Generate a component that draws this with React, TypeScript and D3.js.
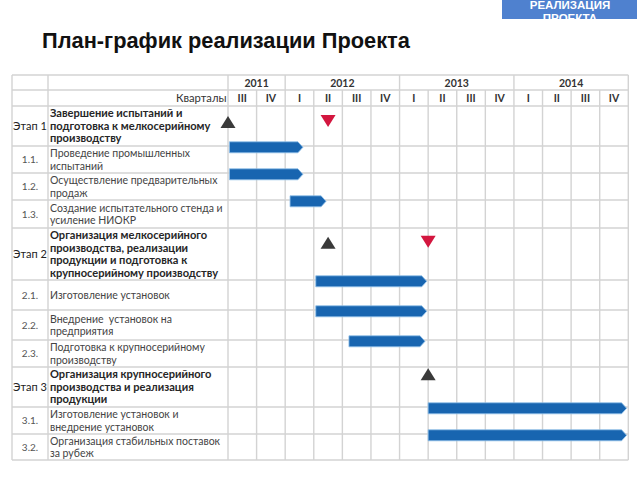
import React from 'react';
import * as d3 from 'd3';

// ---------- data ----------
const years = ['2011', '2012', '2013', '2014'];
const yearQuarterCounts = [2, 4, 4, 4];
const quarterLabels = ['III', 'IV', 'I', 'II', 'III', 'IV', 'I', 'II', 'III', 'IV', 'I', 'II', 'III', 'IV'];

const rowCodes = ['Этап 1', '1.1.', '1.2.', '1.3.', 'Этап 2', '2.1.', '2.2.', '2.3.', 'Этап 3', '3.1.', '3.2.'];
const rowIsStage = [true, false, false, false, true, false, false, false, true, false, false];
const rowTexts: string[][] = [
  ['Завершение испытаний и', 'подготовка к мелкосерийному', 'производству'],
  ['Проведение промышленных', 'испытаний'],
  ['Осуществление предварительных', 'продаж'],
  ['Создание испытательного стенда и', 'усиление НИОКР'],
  ['Организация мелкосерийного', 'производства, реализации', 'продукции и подготовка к', 'крупносерийному производству'],
  ['Изготовление установок'],
  ['Внедрение  установок на', 'предприятия'],
  ['Подготовка к крупносерийному', 'производству'],
  ['Организация крупносерийного', 'производства и реализация', 'продукции'],
  ['Изготовление установок и', 'внедрение установок'],
  ['Организация стабильных поставок', 'за рубеж'],
];

// tasks (quarter index units, 0 = start of III 2011)
const taskRows = [1, 2, 3, 5, 6, 7, 9, 10];
const taskStarts = [0.05, 0.05, 2.17, 3.07, 3.07, 4.23, 7.0, 7.0];
const taskEnds = [2.62, 2.62, 3.43, 6.95, 6.95, 6.89, 13.94, 13.94];

// milestones
const milestoneRows = [0, 0, 4, 4, 8];
const milestoneAt = [0, 3.5, 3.5, 7, 7];
const milestoneKind = ['start', 'end', 'start', 'end', 'start'];

const titleText = 'План-график реализации Проекта';
const badgeLines = ['РЕАЛИЗАЦИЯ', 'ПРОЕКТА'];
const quartersHeader = 'Кварталы';

// ---------- layout ----------
const W = 640;
const H = 480;
const tableLeft = 12;
const codeRight = 48;
const textRight = 228;
const tableRight = 628.3;
const tableTop = 75;
const headerHeights = [15, 16];
const rowHeights = [40, 27, 27, 28, 52, 30, 30, 27, 40, 27, 26];
const milestoneDy = [10, 9, 8.7, 7.7, 1.3];
const lineH = 12.6;
const FONT = 'Lato, "Open Sans", sans-serif';
const gridColor = '#d3d3d3';

export default function App() {
  const x = d3.scaleLinear().domain([0, quarterLabels.length]).range([textRight, tableRight]);
  const headerBottoms = d3.cumsum(headerHeights).map((v) => tableTop + v);
  const bodyTop = headerBottoms[1];
  const rowTops = [bodyTop, ...Array.from(d3.cumsum(rowHeights)).map((v) => bodyTop + v)];
  const tableBottom = rowTops[rowTops.length - 1];

  const yearBounds = [0, ...Array.from(d3.cumsum(yearQuarterCounts))];

  const hLines = [tableTop, ...headerBottoms, ...rowTops.slice(1)];

  const barH = 11;
  const tip = 5;
  const barPath = (s: number, e: number, cy: number) => {
    const x0 = x(s);
    const x1 = x(e);
    const p = d3.path();
    p.moveTo(x0, cy - barH / 2);
    p.lineTo(x1 - tip, cy - barH / 2);
    p.lineTo(x1, cy);
    p.lineTo(x1 - tip, cy + barH / 2);
    p.lineTo(x0, cy + barH / 2);
    p.closePath();
    return p.toString();
  };

  const triPath = (cx: number, top: number, up: boolean) => {
    const w = 15;
    const h = 12;
    const p = d3.path();
    if (up) {
      p.moveTo(cx, top);
      p.lineTo(cx + w / 2, top + h);
      p.lineTo(cx - w / 2, top + h);
    } else {
      p.moveTo(cx - w / 2, top);
      p.lineTo(cx + w / 2, top);
      p.lineTo(cx, top + h);
    }
    p.closePath();
    return p.toString();
  };

  return (
    <svg width={W} height={H} style={{ position: 'absolute', left: 0, top: 0, background: '#fff' }}>
      <defs>
        <clipPath id="badgeClip">
          <rect x={502} y={0} width={135} height={19} />
        </clipPath>
      </defs>
      <rect x={0} y={0} width={W} height={H} fill="#fff" />

      {/* badge */}
      <rect x={502} y={0} width={135} height={19} fill="#4f81cf" />
      <g clipPath="url(#badgeClip)">
        {badgeLines.map((t, i) => (
          <text
            key={t}
            x={570}
            y={8.6 + i * 13.2}
            textAnchor="middle"
            fill="#fff"
            fontFamily='"Liberation Sans", Arial, sans-serif'
            fontWeight="bold"
            fontSize={11.5}
          >
            {t}
          </text>
        ))}
      </g>

      {/* title */}
      <text x={42} y={48.3} fontFamily='"Liberation Sans", Arial, sans-serif' fontWeight="bold" fontSize={21.8} fill="#111">
        {titleText}
      </text>

      {/* grid: horizontal */}
      {hLines.map((yy, i) => (
        <line key={'h' + i} x1={tableLeft} x2={tableRight} y1={yy} y2={yy} stroke={gridColor} strokeWidth={1.4} />
      ))}
      {/* grid: vertical fixed columns */}
      {[tableLeft, codeRight, textRight, tableRight].map((xx, i) => (
        <line key={'vf' + i} x1={xx} x2={xx} y1={tableTop} y2={tableBottom} stroke={gridColor} strokeWidth={1.4} />
      ))}
      {/* year boundaries in year row */}
      {yearBounds.slice(1, -1).map((q, i) => (
        <line key={'vy' + i} x1={x(q)} x2={x(q)} y1={tableTop} y2={headerBottoms[0]} stroke={gridColor} strokeWidth={1.4} />
      ))}
      {/* quarter lines below year row */}
      {d3.range(1, quarterLabels.length).map((q) => (
        <line key={'vq' + q} x1={x(q)} x2={x(q)} y1={headerBottoms[0]} y2={tableBottom} stroke={gridColor} strokeWidth={1.4} />
      ))}

      {/* year labels */}
      {years.map((yr, i) => (
        <text
          key={yr}
          x={(x(yearBounds[i]) + x(yearBounds[i + 1])) / 2}
          y={(tableTop + headerBottoms[0]) / 2 + 4}
          textAnchor="middle"
          fontFamily={FONT}
          fontWeight="bold"
          fontSize={10.5}
          fill="#333"
        >
          {yr}
        </text>
      ))}
      {/* quarter labels */}
      {quarterLabels.map((q, i) => (
        <text
          key={'q' + i}
          x={(x(i) + x(i + 1)) / 2}
          y={(headerBottoms[0] + headerBottoms[1]) / 2 + 4}
          textAnchor="middle"
          fontFamily={FONT}
          fontWeight="bold"
          fontSize={10.5}
          fill="#333"
        >
          {q}
        </text>
      ))}
      <text
        x={textRight - 1.5}
        y={(headerBottoms[0] + headerBottoms[1]) / 2 + 4}
        textAnchor="end"
        fontFamily={FONT}
        fontSize={11.2}
        fill="#333"
      >
        {quartersHeader}
      </text>

      {/* row labels */}
      {rowCodes.map((code, i) => {
        const top = rowTops[i];
        const bottom = rowTops[i + 1];
        const cy = (top + bottom) / 2;
        const lines = rowTexts[i];
        const stage = rowIsStage[i];
        const firstY = cy - ((lines.length - 1) * lineH) / 2 + 3.8;
        return (
          <g key={'r' + i}>
            <text
              x={(tableLeft + codeRight) / 2}
              y={cy + 3.8}
              textAnchor="middle"
              fontFamily={FONT}
              fontSize={stage ? 11 : 10}
              fill={stage ? '#222' : '#555'}
            >
              {code}
            </text>
            <text
              x={50}
              y={firstY}
              fontFamily={FONT}
              fontSize={stage ? 11.1 : 10.5}
              fontWeight={stage ? 'bold' : 'normal'}
              fill={stage ? '#262626' : '#444'}
            >
              {lines.map((l, j) => (
                <tspan key={j} x={50} y={firstY + j * lineH} style={{ whiteSpace: 'pre' }}>
                  {l}
                </tspan>
              ))}
            </text>
          </g>
        );
      })}

      {/* task bars */}
      {taskRows.map((r, i) => (
        <path
          key={'b' + i}
          d={barPath(taskStarts[i], taskEnds[i], rowTops[r] + 1.3)}
          fill="#1865b0"
          stroke="#8fc0ea"
          strokeWidth={0.8}
        />
      ))}

      {/* milestones */}
      {milestoneRows.map((r, i) => (
        <path
          key={'m' + i}
          d={triPath(x(milestoneAt[i]), rowTops[r] + milestoneDy[i], milestoneKind[i] === 'start')}
          fill={milestoneKind[i] === 'start' ? '#3a3a3a' : '#d3163f'}
        />
      ))}
    </svg>
  );
}
